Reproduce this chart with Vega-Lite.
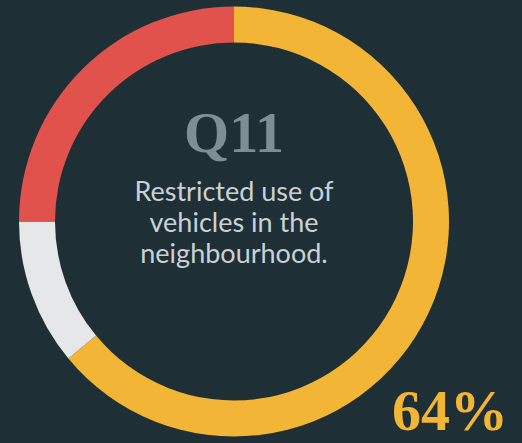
{
  "$schema": "https://vega.github.io/schema/vega-lite/v6.json",
  "width": 468,
  "height": 443,
  "padding": {"left": 0, "top": 0, "right": 54, "bottom": 0},
  "autosize": "none",
  "background": "#1e2f36",
  "config": {"view": {"stroke": null}},
  "layer": [
    {
      "data": {"values": [
        {"answer": "Yes", "pct": 64, "idx": 1},
        {"answer": "Unsure", "pct": 11, "idx": 2},
        {"answer": "No", "pct": 25, "idx": 3}
      ]},
      "mark": {"type": "arc", "outerRadius": 215, "innerRadius": 179},
      "encoding": {
        "theta": {"field": "pct", "type": "quantitative", "stack": true},
        "order": {"field": "idx", "type": "ordinal"},
        "color": {
          "field": "answer", "type": "nominal", "legend": null,
          "scale": {"domain": ["Yes", "Unsure", "No"], "range": ["#f2b535", "#e6e7e9", "#e0524b"]}
        }
      }
    },
    {
      "data": {"values": [{"label": "Q11"}]},
      "mark": {"type": "text", "font": "Liberation Serif", "fontWeight": "bold", "fontSize": 58, "color": "#7d8e95", "baseline": "alphabetic", "align": "center", "dy": -70},
      "encoding": {"text": {"field": "label"}}
    },
    {
      "data": {"values": [{"label": "Restricted use of"}]},
      "mark": {"type": "text", "font": "Lato", "fontSize": 27, "color": "#c9d1d5", "baseline": "alphabetic", "align": "center", "dy": -21, "text": ["Restricted use of", "vehicles in the", "neighbourhood."], "lineHeight": 31},
      "encoding": {}
    },
    {
      "data": {"values": [{"label": "64%"}]},
      "mark": {"type": "text", "font": "Liberation Serif", "fontWeight": "bold", "fontSize": 58, "color": "#f2b535", "baseline": "alphabetic", "align": "center", "dx": 216, "dy": 208},
      "encoding": {"text": {"field": "label"}}
    }
  ]
}
